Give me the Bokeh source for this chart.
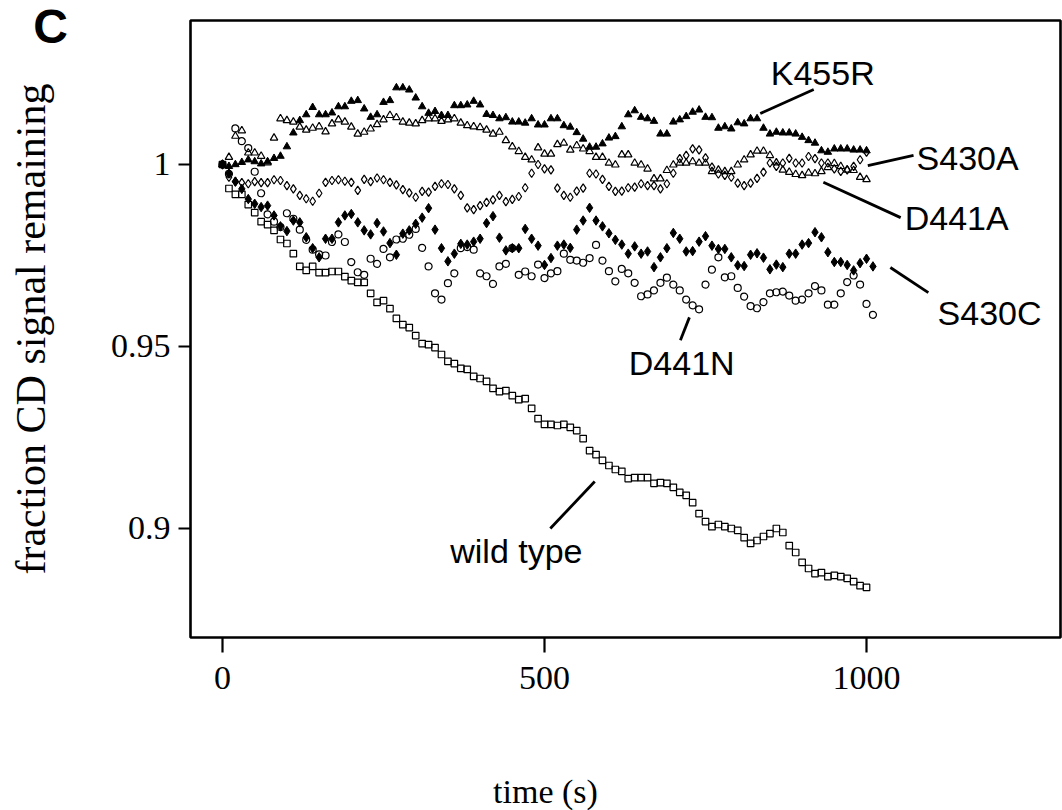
from bokeh.plotting import figure
from bokeh.models import Range1d, FixedTicker, CustomJSTickFormatter, Label, ColumnDataSource
from bokeh.core.properties import value
from bokeh.embed import file_html
from bokeh.resources import INLINE

# ---------------- data ----------------
TIME = list(range(0, 1001, 10))        # 0 .. 1000 s, one reading every 10 s
TIME_LONG = list(range(0, 1011, 10))   # 0 .. 1010 s

wild_type = [1.0,
    .9934, .9918, .9918, .989, .9868, .9843, .9835, .9819, .9794, .9783,
    .9755, .972, .9709, .972, .9703, .9703, .9706, .9706, .9692, .9681,
    .9676, .9676, .9646, .9621, .9626, .9604, .9577, .956, .9552, .953,
    .9508, .9505, .9497, .9478, .9459, .9453, .944, .9437, .9418, .9412,
    .9404, .9385, .9376, .9379, .9365, .9354, .9357, .933, .9302, .9286,
    .9286, .9283, .9286, .9278, .9269, .9247, .9214, .9203, .9187, .9173,
    .9162, .9157, .9137, .914, .914, .914, .9124, .9126, .9124, .9113,
    .9099, .9091, .9071, .9041, .9019, .9005, .9011, .9005, .9, .8995,
    .8975, .8959, .8967, .8978, .8986, .9, .8989, .8953, .8934, .8907,
    .889, .8876, .8879, .8868, .8871, .8868, .8863, .8854, .8843, .8838]

k455r = [1.0, .9995, 1.0, 1.0006, 1.0013, 1.0008, 1.0002, 1.0008, 1.0017, 1.0023,
    1.0049, 1.0087, 1.0121, 1.0137, 1.0157, 1.0137, 1.0137, 1.0142, 1.0159, 1.0159,
    1.0174, 1.0176, 1.0153, 1.013, 1.0137, 1.0171, 1.0176, 1.0211, 1.0211, 1.0205,
    1.0183, 1.0159, 1.0141, 1.0146, 1.0135, 1.0135, 1.0162, 1.0162, 1.0164, 1.0174,
    1.0164, 1.0138, 1.0135, 1.0126, 1.0129, 1.0117, 1.0117, 1.0114, 1.0126, 1.0109,
    1.0109, 1.0126, 1.0126, 1.0107, 1.0103, 1.0088, 1.007, 1.0048, 1.0048, 1.0057,
    1.0073, 1.0077, 1.0104, 1.0137, 1.0148, 1.013, 1.0126, 1.0119, 1.0084, 1.0084,
    1.0117, 1.0123, 1.0132, 1.0144, 1.015, 1.013, 1.0129, 1.01, 1.0104, 1.0098,
    1.0115, 1.0112, 1.0126, 1.0126, 1.01, 1.0084, 1.0089, 1.0087, 1.0087, 1.0084,
    1.0075, 1.0066, 1.0059, 1.0038, 1.0034, 1.0043, 1.0043, 1.0043, 1.004, 1.004,
    1.0038]

d441a = [1.0, 1.002, 1.0078, 1.0093, 1.0032, 1.0032, 1.0023, 1.0005, 1.0073, 1.0126,
    1.0121, 1.0117, 1.0103, 1.0095, 1.01, 1.0104, 1.009, 1.0112, 1.0123, 1.0117,
    1.0103, 1.0084, 1.0089, 1.0098, 1.011, 1.0123, 1.0135, 1.0129, 1.0117, 1.0114,
    1.0112, 1.0121, 1.0126, 1.0126, 1.0119, 1.0123, 1.0126, 1.0114, 1.0107, 1.0104,
    1.0102, 1.0095, 1.0084, 1.0089, 1.0066, 1.0049, 1.0036, 1.002, 1.0013, 1.0046,
    1.0029, 1.0029, 1.0055, 1.0059, 1.004, 1.0052, 1.0043, 1.0036, 1.002, 1.002,
    1.0004, .9999, 1.0027, 1.0027, 1.0004, .9999, .9988, .9961, .9961, .9984,
    .9999, 1.0004, 1.0004, 1.0008, 1.0004, 1.0004, .9981, .9985, .9981, .9981,
    .9999, 1.0013, 1.0027, 1.0037, 1.0037, 1.0025, 1.0005, .9985, .9979, .9973,
    .997, .9977, .9975, .9981, .9992, 1.0003, .9995, .9985, .9984, .9965,
    .9959]

s430a = [1.0, .9965, .9953, .995, .9947, .9953, .995, .995, .9958, .9956,
    .9942, .9933, .9915, .9906, .9899, .9921, .9951, .9956, .9958, .9954,
    .9951, .9929, .9959, .9953, .9963, .9958, .9951, .9944, .9931, .9922,
    .991, .9926, .9924, .994, .9947, .9945, .9933, .9915, .9881, .9876,
    .9887, .9896, .9903, .9915, .9898, .9904, .9912, .9936, .9976, 1.0,
    .9988, .9985, .9935, .9915, .991, .9927, .9935, .9976, .9974, .9959,
    .994, .9926, .9927, .9936, .9938, .9947, .9942, .9942, .9933, .9947,
    .9976, 1.0016, 1.0025, 1.0043, 1.004, 1.0018, .9993, .9974, .997, .9965,
    .9949, .9942, .9949, .9962, .9979, 1.0004, .9995, 1.0004, 1.0017, 1.0004,
    1.0004, 1.0022, 1.0016, 1.0004, 1.0004, .9988, .9981, .9985, .9995, 1.0013,
    1.0034]

s430c = [1.0, .9975, .9953, .9933, .9905, .9892, .9883, .9887, .986, .983,
    .9817, .9846, .9841, .98, .977, .9745, .9796, .9796, .9841, .986,
    .9864, .9841, .9819, .9808, .9839, .9816, .9784, .9752, .981, .9819,
    .9837, .9854, .988, .9821, .977, .9734, .9755, .9782, .978, .9788,
    .9796, .9839, .9858, .9799, .9764, .977, .977, .9823, .9796, .9777,
    .9724, .9743, .9777, .978, .9771, .9821, .9846, .9881, .9846, .983,
    .9811, .9793, .978, .9755, .9775, .9755, .9761, .9718, .9745, .977,
    .9812, .9796, .9761, .9762, .9788, .9803, .9777, .9768, .9768, .9745,
    .9723, .9721, .9752, .9756, .9744, .9712, .9725, .9718, .9755, .9755,
    .978, .9784, .9814, .98, .9759, .9732, .9732, .9724, .9709, .9729,
    .9741, .972]

d441n = [1.0, .9974, 1.0099, 1.0064, 1.0045, .998, .9921, .9863, .9843, .9828,
    .9866, .9851, .9821, .9793, .9766, .9753, .975, .9787, .9808, .9787,
    .9732, .9704, .9697, .9741, .9727, .9768, .9745, .9794, .9796, .9807,
    .9823, .9771, .972, .9646, .9629, .9674, .9701, .977, .9773, .9766,
    .9701, .9693, .9672, .972, .9727, .977, .9697, .9706, .9693, .9725,
    .9688, .9701, .9707, .9755, .9738, .9736, .973, .9743, .9779, .9736,
    .9707, .9679, .9713, .9701, .9675, .9638, .9643, .9654, .9675, .9689,
    .967, .9654, .9629, .9613, .9602, .967, .9711, .9745, .969, .9693,
    .9661, .9637, .9611, .9605, .9622, .9646, .9649, .9651, .964, .9626,
    .9629, .9646, .9666, .9654, .9615, .9615, .9646, .9677, .9695, .967,
    .9617, .9587]

X_TICKS = [0, 500, 1000]
Y_TICKS = [0.9, 0.95, 1.0]

# annotation texts with their anchor (data units) and leader line ends
LABEL_TEXT = ["K455R", "S430A", "D441A", "S430C", "D441N", "wild   type"]
LABEL_X = [932, 1157, 1140, 1191, 713, 471]
LABEL_Y = [1.0250, 1.0019, .9852, .9591, .9456, .8937]
LEAD_X0 = [835, 1002, 933, 1037, 725, 578]
LEAD_Y0 = [1.0140, .9997, .9951, .9717, .9580, .9129]
LEAD_X1 = [918, 1073, 1053, 1096, 711, 509]
LEAD_Y1 = [1.0206, 1.0025, .9854, .9648, .9517, .9000]

# ---------------- figure ----------------
p = figure(width=1062, height=810, output_backend="svg", toolbar_location=None,
           x_range=Range1d(-49.7, 1301.2), y_range=Range1d(0.87005, 1.03956),
           min_border_left=190, min_border_right=2, min_border_top=20,
           min_border_bottom=173)
p.background_fill_color = "white"
p.border_fill_color = "white"
p.outline_line_color = "black"
p.outline_line_width = 2.6
p.grid.visible = False

serif = "Liberation Serif"
sans = "Liberation Sans"

for ax in (p.xaxis[0], p.yaxis[0]):
    ax.axis_line_color = None
    ax.major_tick_line_color = "black"
    ax.major_tick_line_width = 2.2
    ax.major_tick_in = 0
    ax.minor_tick_line_color = None
    ax.major_label_text_font = serif
    ax.major_label_text_font_size = "34px"
    ax.major_label_text_color = "black"
    ax.axis_label_text_font = serif
    ax.axis_label_text_font_style = "normal"
    ax.axis_label_text_color = "black"
    ax.formatter = CustomJSTickFormatter(code="return String(tick);")

p.xaxis.ticker = FixedTicker(ticks=X_TICKS)
p.yaxis.ticker = FixedTicker(ticks=Y_TICKS)
p.xaxis.major_tick_out = 15
p.yaxis.major_tick_out = 12
p.xaxis.major_label_standoff = 14
p.yaxis.major_label_standoff = 8
p.yaxis.axis_label = "fraction CD signal remaining"
p.yaxis.axis_label_text_font_size = "42px"
p.yaxis.axis_label_standoff = 54

# ---------------- series ----------------
p.scatter(TIME, wild_type, marker="square", size=6.5, fill_color=None,
          line_color="black", line_width=1.2)
p.scatter(TIME_LONG, d441n, marker="circle", size=7, fill_color=None,
          line_color="black", line_width=1.2)
p.scatter(TIME_LONG, s430c, marker="diamond", size=9.5, fill_color="black",
          line_color="black", line_width=1)
p.scatter(TIME, s430a, marker="diamond", size=8.5, fill_color=None,
          line_color="black", line_width=1.2)
p.scatter(TIME, d441a, marker="triangle", size=7.5, fill_color=None,
          line_color="black", line_width=1.2)
p.scatter(TIME, k455r, marker="triangle", size=7.5, fill_color="black",
          line_color="black", line_width=1)

# ---------------- labels and leader lines ----------------
p.segment(x0=LEAD_X0, y0=LEAD_Y0, x1=LEAD_X1, y1=LEAD_Y1,
          line_color="black", line_width=2.8)
lab_src = ColumnDataSource(dict(x=LABEL_X, y=LABEL_Y, text=LABEL_TEXT))
p.text(x="x", y="y", text="text", source=lab_src, text_font=value(sans),
       text_font_size="34px", text_align="center", text_baseline="middle",
       text_color="black")

# panel letter and x-axis title: canvas-pixel labels kept in a side panel
# (side-panel annotations are not clipped to the plot frame)
p.add_layout(Label(x=50, y=26, x_units="canvas", y_units="canvas", text="C",
                   text_font=sans, text_font_style="bold", text_font_size="48px",
                   text_align="center", text_baseline="middle", text_color="black"),
             "below")
p.add_layout(Label(x=545, y=791, x_units="canvas", y_units="canvas", text="time (s)",
                   text_font=serif, text_font_size="34px",
                   text_align="center", text_baseline="middle", text_color="black"),
             "below")

open("out.html", "w").write(file_html(p, INLINE))
